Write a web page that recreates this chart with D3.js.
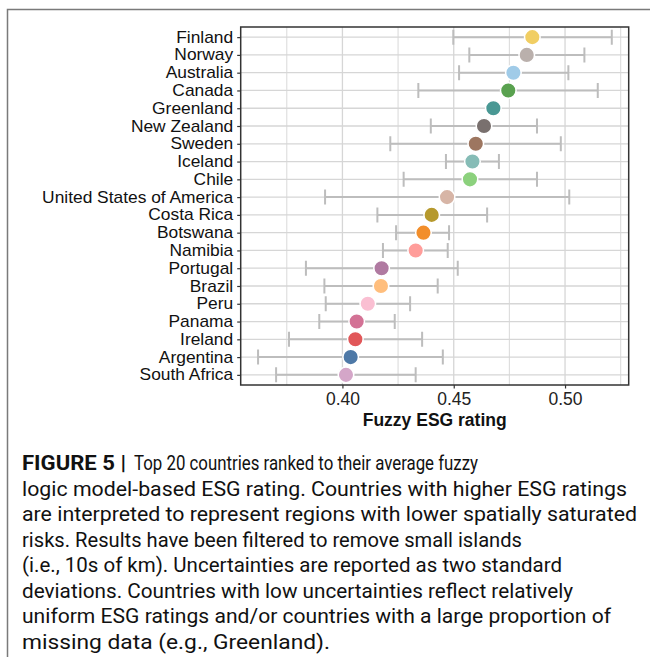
<!doctype html>
<html lang="en">
<head>
<meta charset="utf-8">
<title>Fuzzy ESG rating</title>
<script src="https://d3js.org/d3.v7.min.js"></script>
<style>
  body { margin: 0; background: #fff; }
  svg { display: block; }
</style>
</head>
<body>
<div id="chart"></div>
<script>
// countries, top to bottom
var countries = ["Finland", "Norway", "Australia", "Canada", "Greenland", "New Zealand", "Sweden",
  "Iceland", "Chile", "United States of America", "Costa Rica", "Botswana", "Namibia", "Portugal",
  "Brazil", "Peru", "Panama", "Ireland", "Argentina", "South Africa"];
var rating = [0.4853, 0.4828, 0.4768, 0.4745, 0.4678, 0.4636, 0.4599, 0.4584, 0.4573, 0.4470,
  0.4401, 0.4364, 0.4329, 0.4176, 0.4173, 0.4114, 0.4064, 0.4058, 0.4037, 0.4016];
var lower = [0.4498, 0.4570, 0.4524, 0.4341, 0.4678, 0.4397, 0.4215, 0.4465, 0.4275, 0.3922,
  0.4157, 0.4241, 0.4182, 0.3836, 0.3919, 0.3925, 0.3896, 0.3760, 0.3621, 0.3702];
var upper = [0.5210, 0.5087, 0.5015, 0.5147, 0.4678, 0.4874, 0.4981, 0.4703, 0.4874, 0.5019,
  0.4650, 0.4479, 0.4473, 0.4518, 0.4428, 0.4304, 0.4235, 0.4358, 0.4451, 0.4329];
var colors = ["#F1CE63", "#BAB0AC", "#A0CBE8", "#59A14F", "#499894", "#79706E", "#9D7660",
  "#86BCB6", "#8CD17D", "#D7B5A6", "#B6992D", "#F28E2B", "#FF9D9A", "#B07AA1", "#FFBE7D",
  "#FABFD2", "#D37295", "#E15759", "#4E79A7", "#D4A6C8"];
var majorTicks = [0.40, 0.45, 0.50];
var minorTicks = [0.375, 0.425, 0.475, 0.525];
var xTitle = "Fuzzy ESG rating";
var captionBold = "FIGURE 5 |";
var captionLines = [
  "Top 20 countries ranked to their average fuzzy",
  "logic model-based ESG rating. Countries with higher ESG ratings",
  "are interpreted to represent regions with lower spatially saturated",
  "risks. Results have been filtered to remove small islands",
  "(i.e., 10s of km). Uncertainties are reported as two standard",
  "deviations. Countries with low uncertainties reflect relatively",
  "uniform ESG ratings and/or countries with a large proportion of",
  "missing data (e.g., Greenland)."
];
var captionWidths = [344, 605, 615, 500, 540, 551, 589, 308];

var data = countries.map(function(c, i) {
  return { name: c, value: rating[i], lo: lower[i], hi: upper[i], color: colors[i] };
});

var width = 650, height = 657;
var panel = { left: 240.7, right: 628.7, top: 27, bottom: 385 };

var svg = d3.select("#chart").append("svg")
  .attr("width", width)
  .attr("height", height);

// outer frame (top and left edges only)
svg.append("path")
  .attr("d", "M7.5," + height + "V9.5H" + width)
  .attr("fill", "none")
  .attr("stroke", "#7a7a7a")
  .attr("stroke-width", 1.5);

var x = d3.scaleLinear()
  .domain([0.3543, 0.5286])
  .range([panel.left, panel.right]);

var y = d3.scalePoint()
  .domain(countries)
  .range([panel.top, panel.bottom])
  .padding(0.57);

// grid
var grid = svg.append("g");
grid.selectAll(".vminor").data(minorTicks).enter().append("line")
  .attr("x1", function(d) { return x(d); }).attr("x2", function(d) { return x(d); })
  .attr("y1", panel.top).attr("y2", panel.bottom)
  .attr("stroke", "#dcdcdc").attr("stroke-width", 1.1);
grid.selectAll(".vmajor").data(majorTicks).enter().append("line")
  .attr("x1", function(d) { return x(d); }).attr("x2", function(d) { return x(d); })
  .attr("y1", panel.top).attr("y2", panel.bottom)
  .attr("stroke", "#d6d6d6").attr("stroke-width", 1.3);
grid.selectAll(".hmajor").data(countries).enter().append("line")
  .attr("x1", panel.left).attr("x2", panel.right)
  .attr("y1", function(d) { return y(d); }).attr("y2", function(d) { return y(d); })
  .attr("stroke", "#d6d6d6").attr("stroke-width", 1.3);

// error bars
var bars = svg.append("g").attr("stroke", "#bdbdbd").attr("stroke-width", 2).attr("fill", "none");
bars.selectAll(".eb").data(data.filter(function(d) { return d.hi > d.lo; })).enter().append("path")
  .attr("d", function(d) {
    var yy = y(d.name), cap = 7.5;
    return "M" + x(d.lo) + "," + (yy - cap) + "V" + (yy + cap) +
      "M" + x(d.lo) + "," + yy + "H" + x(d.hi) +
      "M" + x(d.hi) + "," + (yy - cap) + "V" + (yy + cap);
  });

// points
svg.append("g").selectAll("circle").data(data).enter().append("circle")
  .attr("cx", function(d) { return x(d.value); })
  .attr("cy", function(d) { return y(d.name); })
  .attr("r", 7.8)
  .attr("fill", function(d) { return d.color; })
  .attr("stroke", "#fff")
  .attr("stroke-width", 1.5);

// panel border
svg.append("rect")
  .attr("x", panel.left).attr("y", panel.top)
  .attr("width", panel.right - panel.left).attr("height", panel.bottom - panel.top)
  .attr("fill", "none").attr("stroke", "#333").attr("stroke-width", 1.5);

// axes
var xAxis = svg.append("g")
  .attr("transform", "translate(0," + panel.bottom + ")")
  .call(d3.axisBottom(x).tickValues(majorTicks).tickFormat(d3.format(".2f")).tickSize(3.5).tickPadding(4));
xAxis.select(".domain").remove();
xAxis.selectAll("line").attr("stroke", "#333").attr("stroke-width", 1.2);
xAxis.selectAll("text")
  .attr("fill", "#222")
  .style("font-family", "'Liberation Sans', Arial, sans-serif")
  .style("font-size", "17.5px");

var yAxis = svg.append("g")
  .attr("transform", "translate(" + panel.left + ",0)")
  .call(d3.axisLeft(y).tickSize(3.5).tickPadding(4));
yAxis.select(".domain").remove();
yAxis.selectAll("line").attr("stroke", "#333").attr("stroke-width", 1.2);
// labels are a little wide for their height: stretch them horizontally
yAxis.selectAll("text")
  .attr("x", 0)
  .attr("transform", "translate(-7.5,0) scale(1.1,1)")
  .attr("fill", "#111")
  .style("font-family", "'Liberation Sans', Arial, sans-serif")
  .style("font-size", "15.8px");

svg.append("text")
  .attr("x", (panel.left + panel.right) / 2)
  .attr("y", 426)
  .attr("text-anchor", "middle")
  .style("font-family", "'Liberation Sans', Arial, sans-serif")
  .style("font-size", "17.5px")
  .style("font-weight", "bold")
  .attr("fill", "#111")
  .text(xTitle);

// caption
var cap = svg.append("g")
  .style("font-family", "Roboto, 'Noto Sans', sans-serif")
  .style("font-size", "21px")
  .attr("fill", "#111");
cap.append("text")
  .attr("x", 22)
  .attr("y", 470)
  .attr("textLength", 104)
  .attr("lengthAdjust", "spacingAndGlyphs")
  .style("font-weight", "bold")
  .text(captionBold);
captionLines.forEach(function(line, i) {
  cap.append("text")
    .attr("x", i === 0 ? 134 : 22)
    .attr("y", 470 + i * 25.5)
    .attr("textLength", captionWidths[i])
    .attr("lengthAdjust", "spacingAndGlyphs")
    .text(line);
});
</script>
</body>
</html>
